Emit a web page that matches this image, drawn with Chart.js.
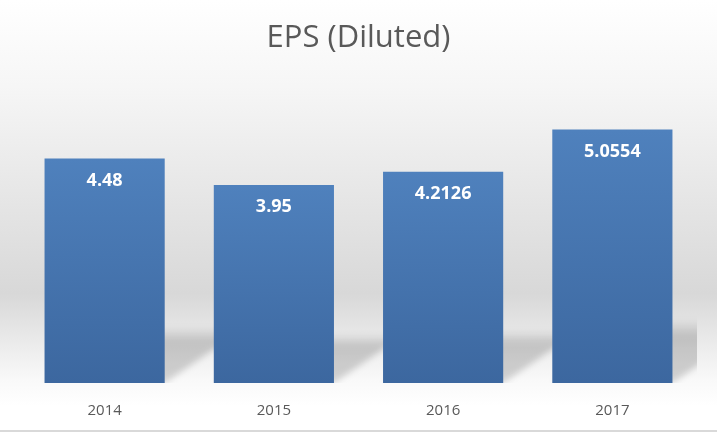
<!DOCTYPE html>
<html>
<head>
<meta charset="utf-8">
<script src="https://cdn.jsdelivr.net/npm/chart.js@4.4.1/dist/chart.umd.min.js"></script>
<style>
  html, body { margin: 0; padding: 0; background: #fff; }
  #wrap { width: 717px; height: 432px; }
</style>
</head>
<body>
<div id="wrap"><canvas id="grafica"></canvas></div>
<script>
const anios = ["2014", "2015", "2016", "2017"];
const eps = [4.48, 3.95, 4.2126, 5.0554];
const ejeMin = 0;
const ejeMax = 6;

const ctx = document.getElementById("grafica");

// fondo degradado tipo Excel + linea gris de abajo
const fondo = {
    id: "fondo",
    beforeDraw(chart) {
        const c = chart.ctx;
        const h = chart.height;
        const g = c.createLinearGradient(0, 0, 0, h);
        g.addColorStop(0, "#ffffff");
        g.addColorStop(0.2, "#f6f6f6");
        g.addColorStop(0.68, "#d8d8d8");
        g.addColorStop(0.88, "#f9f9f9");
        g.addColorStop(0.94, "#ffffff");
        c.save();
        c.fillStyle = g;
        c.fillRect(0, 0, chart.width, h);
        c.fillStyle = "#d9d9d9";
        c.fillRect(0, h - 2, chart.width, 2);
        c.restore();
    }
};

// sombra en perspectiva detras de cada barra
const sombra = {
    id: "sombra",
    beforeDatasetsDraw(chart) {
        const c = chart.ctx;
        const area = chart.chartArea;
        const meta = chart.getDatasetMeta(0);
        c.save();
        c.beginPath();
        c.rect(area.left, area.top, area.right - area.left, area.bottom - area.top);
        c.clip();
        c.filter = "blur(3px)";
        meta.data.forEach(bar => {
            const alto = bar.base - bar.y;
            const sh = alto * 0.25;
            const dx = sh * 1.45;
            const izq = bar.x - bar.width / 2;
            const der = bar.x + bar.width / 2;
            const g = c.createLinearGradient(0, bar.base - sh, 0, bar.base);
            g.addColorStop(0, "rgba(0,0,0,0)");
            g.addColorStop(0.25, "rgba(0,0,0,0.17)");
            g.addColorStop(1, "rgba(0,0,0,0.16)");
            c.fillStyle = g;
            c.beginPath();
            c.moveTo(izq, bar.base);
            c.lineTo(der, bar.base);
            c.lineTo(der + dx, bar.base - sh);
            c.lineTo(izq + dx, bar.base - sh);
            c.closePath();
            c.fill();
        });
        c.restore();
    }
};

// etiquetas de valor dentro de la barra
const etiquetas = {
    id: "etiquetas",
    afterDatasetsDraw(chart) {
        const c = chart.ctx;
        const meta = chart.getDatasetMeta(0);
        c.save();
        c.fillStyle = "#ffffff";
        c.font = "bold 18px 'Open Sans'";
        c.textAlign = "center";
        c.textBaseline = "middle";
        meta.data.forEach((bar, i) => {
            c.fillText(String(eps[i]), bar.x, bar.y + 22);
        });
        c.restore();
    }
};

// degradado por barra, calculado con la escala y
function colorBarra(context) {
    const chart = context.chart;
    const y = chart.scales.y;
    if (!chart.chartArea || !y || context.parsed === undefined) return "#4676b2";
    const arriba = y.getPixelForValue(context.parsed.y);
    const abajo = y.getPixelForValue(0);
    if (!isFinite(arriba) || !isFinite(abajo)) return "#4676b2";
    const g = chart.ctx.createLinearGradient(0, arriba, 0, abajo);
    g.addColorStop(0, "#4f81bd");
    g.addColorStop(1, "#3c679f");
    return g;
}

new Chart(ctx, {
    type: "bar",
    data: {
        labels: anios,
        datasets: [
            {
                label: "EPS (Diluted)",
                data: eps,
                backgroundColor: colorBarra,
                borderWidth: 0,
                categoryPercentage: 1,
                barPercentage: 0.71
            }
        ]
    },
    options: {
        responsive: true,
        maintainAspectRatio: false,
        animation: false,
        layout: { padding: { left: 20, right: 20, top: 0, bottom: 0 } },
        plugins: {
            legend: { display: false },
            tooltip: { enabled: false },
            title: {
                display: true,
                text: "EPS (Diluted)",
                color: "#595959",
                font: { family: "'Open Sans'", size: 31, weight: "normal" },
                padding: { top: 20, bottom: 25 }
            }
        },
        scales: {
            x: {
                grid: { display: false },
                border: { display: false },
                ticks: {
                    color: "#595959",
                    font: { family: "'Open Sans'", size: 15 },
                    padding: 11
                },
                afterFit(scale) { scale.height = 49; }
            },
            y: {
                display: false,
                min: ejeMin,
                max: ejeMax
            }
        }
    },
    plugins: [fondo, sombra, etiquetas]
});
</script>
</body>
</html>
